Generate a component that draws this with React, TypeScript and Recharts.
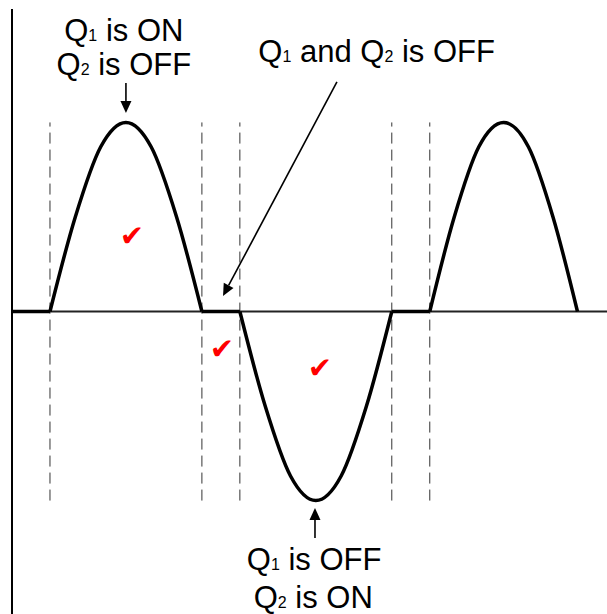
import React from 'react';
import { LineChart, Line, XAxis, YAxis, ReferenceLine, ReferenceDot } from 'recharts';

// waveform, phase in degrees vs normalised voltage
const phaseDeg = [0, 45, 75, 105, 135, 165, 195, 225, 270, 300, 330, 360, 390, 420, 450, 495, 524, 553, 582.5, 612, 641, 670];
const voltage = [0, 0, 0.5, 0.87, 1, 0.87, 0.5, 0, 0, -0.5, -0.87, -1, -0.87, -0.5, 0, 0, 0.5, 0.87, 1, 0.87, 0.5, 0];
// indices where the wave has a sharp corner (switch on/off)
const cornerIdx = [0, 1, 7, 8, 14, 15, 21];

// dashed switching instants
const switchEdges = [45, 225, 270, 450, 495];

// annotations
const labels = [
  { x: 132.5, y: 1.431, text: 'Q₁ is ON' },
  { x: 132.5, y: 1.251, text: 'Q₂ is OFF' },
  { x: 432, y: 1.322, text: 'Q₁ and Q₂ is OFF' },
  { x: 358, y: -1.367, text: 'Q₁ is OFF' },
  { x: 357, y: -1.568, text: 'Q₂ is ON' },
];
const arrows = [
  { from: { x: 135, y: 1.209 }, to: { x: 135, y: 1.05 } },
  { from: { x: 385, y: 1.214 }, to: { x: 250, y: 0.082 } },
  { from: { x: 359, y: -1.198 }, to: { x: 359, y: -1.039 } },
];
const checks = [
  { x: 142, y: 0.4 },
  { x: 248.7, y: -0.198 },
  { x: 364.8, y: -0.299 },
];

const wave = phaseDeg.map((t, i) => ({ t, v: voltage[i] }));
const segments = cornerIdx.slice(0, -1).map((s, k) => wave.slice(s, cornerIdx[k + 1] + 1));

const FONT = '"Liberation Sans", Arial, sans-serif';

const withSubs = (str: string) =>
  str.split(/([₁₂])/).filter(Boolean).map((part, i) =>
    part === '₁' || part === '₂'
      ? <tspan key={i} fontSize={16}>{part === '₁' ? '1' : '2'}</tspan>
      : <tspan key={i} fontSize={31}>{part}</tspan>
  );

const arrowShape = (props: any) => {
  const { x1, y1, x2, y2 } = props;
  const a = Math.atan2(y2 - y1, x2 - x1);
  const head = 12;
  const half = 5.5;
  const bx = x2 - head * Math.cos(a);
  const by = y2 - head * Math.sin(a);
  const px = -Math.sin(a) * half;
  const py = Math.cos(a) * half;
  return (
    <g>
      <line x1={x1} y1={y1} x2={bx} y2={by} stroke="#000" strokeWidth={1.6} />
      <polygon points={`${x2},${y2} ${bx + px},${by + py} ${bx - px},${by - py}`} fill="#000" />
    </g>
  );
};

export default function App() {
  return (
    <div style={{ position: 'absolute', left: 0, top: 0, width: 607, height: 614, background: '#fff' }}>
      <LineChart width={607} height={614} margin={{ top: 9, right: 0, bottom: 0, left: 12 }}>
        <XAxis dataKey="t" type="number" domain={[0, 705]} hide />
        <YAxis type="number" domain={[-1.6, 1.6]} hide />
        <ReferenceLine x={0} stroke="#000" strokeWidth={2} />
        <ReferenceLine y={0} stroke="#222" strokeWidth={1.8} />
        {switchEdges.map((x) => (
          <ReferenceLine
            key={x}
            segment={[{ x, y: -1 }, { x, y: 1 }]}
            stroke="#333"
            strokeWidth={1}
            strokeDasharray="11 6"
          />
        ))}
        {segments.map((seg, i) => (
          <Line
            key={i}
            data={seg}
            dataKey="v"
            type="monotone"
            stroke="#000"
            strokeWidth={3.5}
            dot={false}
            activeDot={false}
            isAnimationActive={false}
          />
        ))}
        {arrows.map((a, i) => (
          <ReferenceLine key={'a' + i} segment={[a.from, a.to]} shape={arrowShape} />
        ))}
        {labels.map((l, i) => (
          <ReferenceDot
            key={'l' + i}
            x={l.x}
            y={l.y}
            r={0}
            shape={(p: any) => (
              <text x={p.cx} y={p.cy} textAnchor="middle" fontFamily={FONT} fill="#000" style={{ whiteSpace: 'pre' }}>
                {withSubs(l.text)}
              </text>
            )}
          />
        ))}
        {checks.map((c, i) => (
          <ReferenceDot
            key={'c' + i}
            x={c.x}
            y={c.y}
            r={0}
            shape={(p: any) => (
              <text x={p.cx} y={p.cy} textAnchor="middle" dominantBaseline="central" fontFamily="DejaVu Sans" fontSize={29} fill="#ff0000">
                ✔
              </text>
            )}
          />
        ))}
      </LineChart>
    </div>
  );
}
